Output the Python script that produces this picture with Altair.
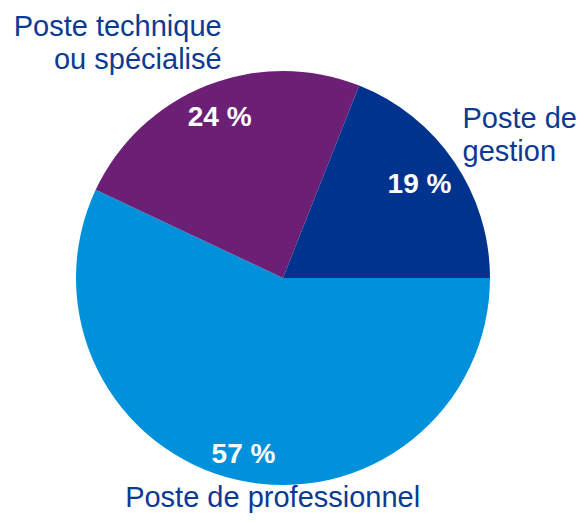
import math
import altair as alt
import pandas as pd

categories = ["Poste de professionnel", "Poste technique ou spécialisé", "Poste de gestion"]
values = [57, 24, 19]
pct_labels = ["57 %", "24 %", "19 %"]
outer_labels = ["Poste de professionnel", "Poste technique\nou spécialisé", "Poste de\ngestion"]
colors = ["#0091DA", "#6C2075", "#00338D"]

df = pd.DataFrame({
    "cat": categories,
    "value": values,
    "pct": pct_labels,
    "outer": outer_labels,
    "idx": list(range(len(categories))),
})

CX, CY, R = 275, 270, 207
FONT = "Liberation Sans, Arial, sans-serif"
TEXT_COLOR = "#0B3A92"

theta_scale = alt.Scale(domain=[0, 100], range=[math.pi / 2, math.pi / 2 + 2 * math.pi])

base = (
    alt.Chart(df)
    .transform_window(end="sum(value)", sort=[alt.SortField("idx", order="ascending")], frame=[None, 0])
    .transform_calculate(start="datum.end - datum.value", mid="datum.end - datum.value / 2")
)

arc = base.mark_arc(outerRadius=R, stroke=None).encode(
    theta=alt.Theta("start:Q", scale=theta_scale),
    theta2="end:Q",
    color=alt.Color("cat:N", scale=alt.Scale(domain=categories, range=colors), legend=None),
    x=alt.value(CX),
    y=alt.value(CY),
)

layers = [arc]

# percentage labels inside slices
pct_radius = {categories[0]: 181, categories[1]: 172, categories[2]: 165}
for c in categories:
    layers.append(
        base.transform_filter(alt.datum.cat == c)
        .mark_text(radius=pct_radius[c], font=FONT, fontSize=28, fontWeight="bold",
                   color="white", align="center", baseline="middle")
        .encode(theta=alt.Theta("mid:Q", scale=theta_scale), text="pct:N",
                x=alt.value(CX), y=alt.value(CY))
    )

# outer category labels
outer_cfg = {
    categories[0]: dict(align="center", dx=42, dy=-5),
    categories[1]: dict(align="right", dx=27, dy=-19),
    categories[2]: dict(align="left", dx=-19, dy=-15),
}
for c in categories:
    cfg = outer_cfg[c]
    layers.append(
        base.transform_filter(alt.datum.cat == c)
        .mark_text(radius=240, font=FONT, fontSize=29, color=TEXT_COLOR,
                   baseline="alphabetic", lineBreak="\n", lineHeight=33, **cfg)
        .encode(theta=alt.Theta("mid:Q", scale=theta_scale), text="outer:N",
                x=alt.value(CX), y=alt.value(CY))
    )

chart = (
    alt.layer(*layers)
    .properties(width=570, height=507, padding=0, autosize=alt.AutoSizeParams(type="none"))
    .configure_view(stroke=None)
)

chart.save("out.html", embed_options={"renderer": "svg", "actions": False})
